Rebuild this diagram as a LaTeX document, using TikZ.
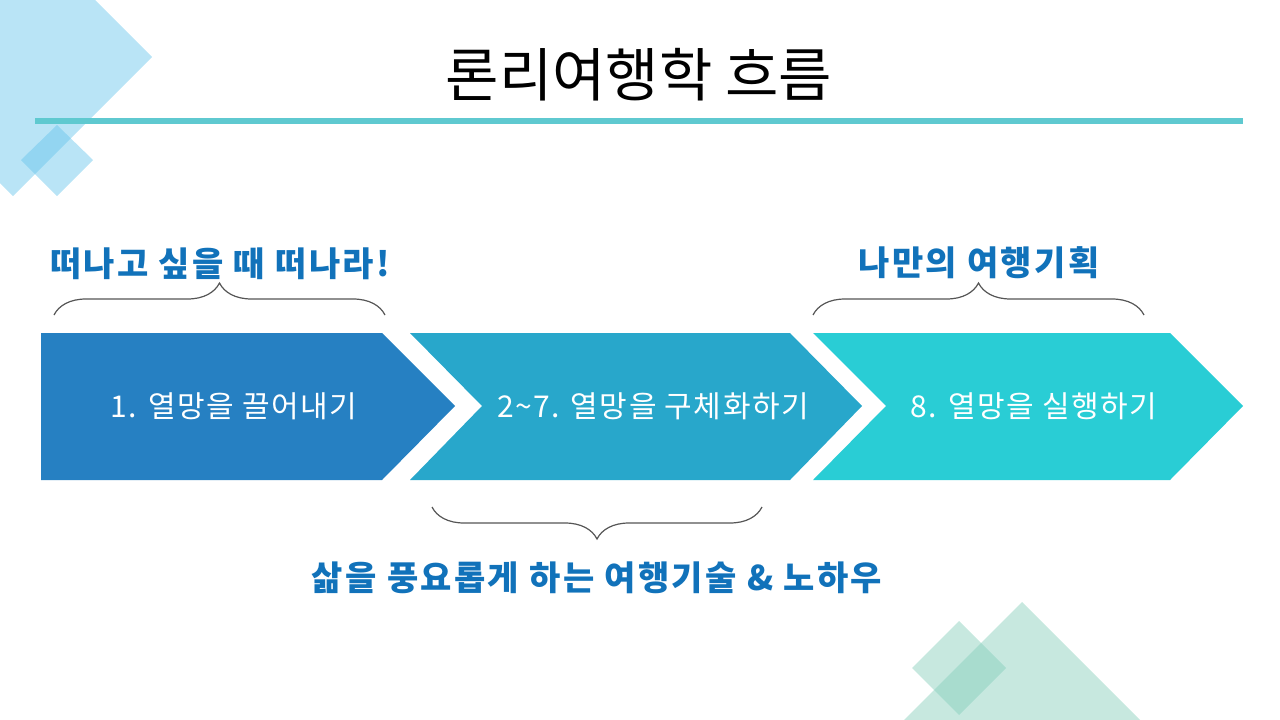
\documentclass[tikz,border=0pt]{standalone}
\usepackage{fontspec}
\setmainfont{Noto Sans CJK KR}
\usetikzlibrary{decorations.pathreplacing}
\definecolor{skyd}{RGB}{100,195,235}
\definecolor{mintd}{RGB}{130,205,185}
\definecolor{ruleteal}{RGB}{95,201,208}
\definecolor{chevA}{RGB}{38,128,194}
\definecolor{chevB}{RGB}{40,167,203}
\definecolor{chevC}{RGB}{41,205,213}
\definecolor{labelblue}{RGB}{17,114,186}
\definecolor{bracegray}{RGB}{85,85,85}
\begin{document}
\begin{tikzpicture}[x=1pt,y=-1pt,
  deco/.style={fill=#1,fill opacity=0.45,draw=none},
  chevtext/.style={text=white,font=\fontsize{30}{36}\selectfont\addfontfeatures{LetterSpace=5},inner sep=0pt},
  bluelabel/.style={text=labelblue,font=\fontsize{34}{40}\selectfont\bfseries\addfontfeatures{LetterSpace=7},inner sep=0pt},
  titletext/.style={text=black,font=\fontsize{58}{66}\selectfont,inner sep=0pt},
  bracepath/.style={draw=bracegray,line width=1.2pt,decorate,decoration={brace,amplitude=32pt}}]
\useasboundingbox (0,0) rectangle (1280,720);
\begin{scope}
\clip (0,0) rectangle (1280,720);
\fill[deco=skyd] (13,-82) -- (152,57) -- (13,196) -- (-126,57) -- cycle;
\fill[deco=mintd] (1022,602) -- (1172,752) -- (1022,902) -- (872,752) -- cycle;
\fill[deco=mintd] (959,621) -- (1006,668) -- (959,715) -- (912,668) -- cycle;
\end{scope}
% title
\node[titletext] (title) at (639,75) {론리여행학 흐름};
\fill[ruleteal] (35,118) rectangle (1243,124);
\fill[deco=skyd] (57,125) -- (93,160) -- (57,196) -- (21,160) -- cycle;
% chevrons
\fill[chevA] (41,333) -- (382,333) -- (455,406) -- (382,480) -- (41,480) -- cycle;
\fill[chevB] (410,333) -- (790,333) -- (862,406) -- (790,480) -- (410,480) -- (482,406) -- cycle;
\fill[chevC] (813,333) -- (1170,333) -- (1243,406) -- (1170,480) -- (813,480) -- (886,406) -- cycle;
\node[chevtext] (s1) at (234,406) {1. 열망을 끌어내기};
\node[chevtext] (s2) at (653,406) {2\textasciitilde7. 열망을 구체화하기};
\node[chevtext] (s3) at (1034,406) {8. 열망을 실행하기};
% braces
\coordinate (b1a) at (54,315); \coordinate (b1b) at (385,315);
\coordinate (b2a) at (813,315); \coordinate (b2b) at (1144,315);
\coordinate (b3a) at (762,507); \coordinate (b3b) at (432,507);
\draw[bracepath] (b1a) -- (b1b);
\draw[bracepath] (b2a) -- (b2b);
\draw[bracepath] (b3a) -- (b3b);
% labels
\node[bluelabel] (l1) at (220,264) {떠나고 싶을 때 떠나라!};
\node[bluelabel] (l2) at (979,263) {나만의 여행기획};
\node[bluelabel] (l3) at (597,578) {삶을 풍요롭게 하는 여행기술 \& 노하우};
\end{tikzpicture}
\end{document}
